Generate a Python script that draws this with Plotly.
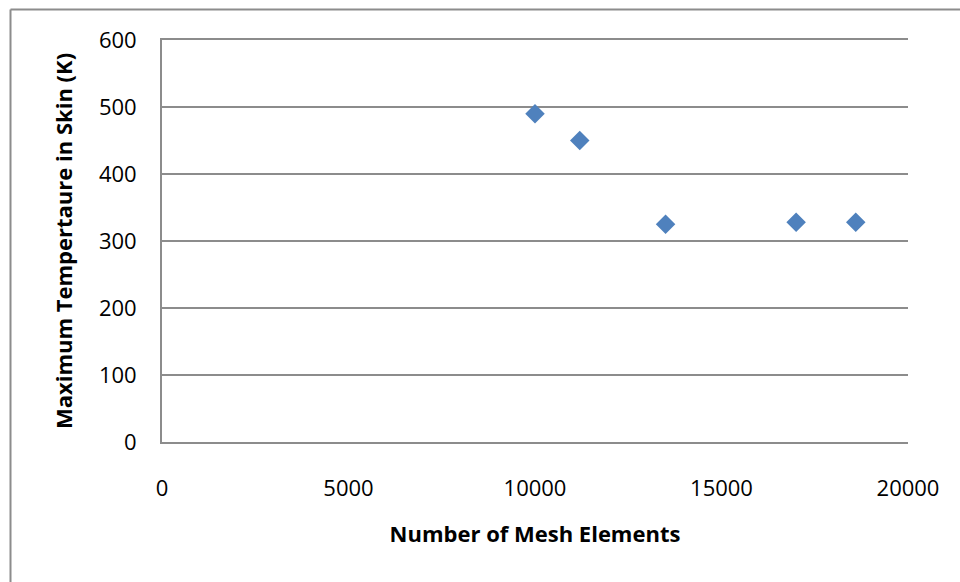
import plotly.graph_objects as go

mesh_elements = [10000, 11200, 13500, 17000, 18600]
max_temp = [490, 450, 325, 328, 328]
x_ticks = [0, 5000, 10000, 15000, 20000]
y_ticks = [0, 100, 200, 300, 400, 500, 600]

W, H = 960, 582
L, R, T, B = 162, 52, 40, 140
pw, ph = W - L - R, H - T - B
grid = "#8c8c8c"
font = "'Open Sans', sans-serif"

fig = go.Figure()
fig.add_trace(go.Scatter(
    x=mesh_elements, y=max_temp, mode="markers",
    marker=dict(symbol="diamond", size=15, color="#4F81BD"),
    showlegend=False,
))

def px_x(p):
    return (p - L) / pw

def px_y(p):
    return 1 - (p - T) / ph

fig.update_layout(
    width=W, height=H,
    margin=dict(l=L, r=R, t=T, b=B),
    paper_bgcolor="white", plot_bgcolor="white",
    font=dict(family=font, size=22, color="black"),
    xaxis=dict(
        range=[0, 20000], tickvals=x_ticks, ticktext=[str(v) for v in x_ticks],
        showgrid=False, zeroline=False, showline=True, mirror=True,
        linecolor=grid, linewidth=1.8,
        ticks="", ticklabelstandoff=26,
        title=dict(text="<b>Number of Mesh Elements</b>", font=dict(size=22), standoff=25),
    ),
    yaxis=dict(
        range=[0, 600], tickvals=y_ticks,
        showgrid=True, gridcolor=grid, gridwidth=1.8,
        zeroline=False, showline=True, linecolor=grid, linewidth=1.8,
        ticks="", ticklabelstandoff=19,
        title=dict(text="<b>Maximum Tempertaure in Skin (K)</b>", font=dict(size=22), standoff=20),
    ),
    shapes=[
        dict(type="line", xref="paper", yref="paper",
             x0=px_x(10.5), x1=px_x(10.5), y0=px_y(9.5), y1=px_y(H + 5),
             line=dict(color=grid, width=2)),
        dict(type="line", xref="paper", yref="paper",
             x0=px_x(10.5), x1=px_x(W + 5), y0=px_y(9.5), y1=px_y(9.5),
             line=dict(color=grid, width=2)),
    ],
)

fig.write_html("out.html")
